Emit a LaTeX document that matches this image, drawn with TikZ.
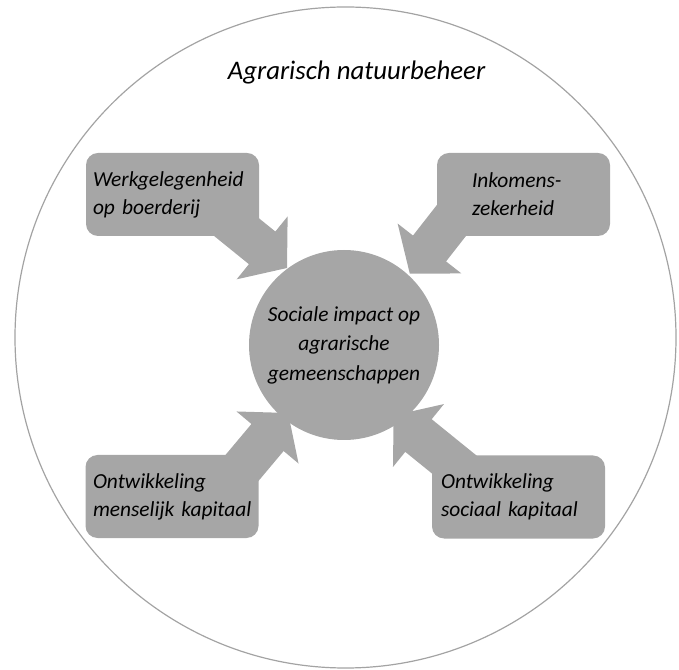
\documentclass[tikz,border=0pt]{standalone}
\usepackage{fontspec}
\setmainfont{Carlito}
\usetikzlibrary{calc}

\hyphenpenalty=10000
\exhyphenpenalty=10000

\definecolor{blockgrey}{HTML}{A6A6A6}
\definecolor{ringgrey}{HTML}{A3A3A3}

\newcommand{\blockarrow}[2]{%
    \coordinate (#1-w) at ($(#2)!32pt!(#1)$);
    \fill [blockgrey]
        ($(#1)!21pt!90:(#2)$) -- ($(#1-w)!21pt!90:(#2)$) --
        ($(#1-w)!40.5pt!90:(#2)$) -- (#2) --
        ($(#1-w)!40.5pt!-90:(#2)$) -- ($(#1-w)!21pt!-90:(#2)$) --
        ($(#1)!21pt!-90:(#2)$) -- cycle;
}

\begin{document}
\begin{tikzpicture}
    [x=1pt, y=1pt,
     every node/.style={font=\fontsize{21.4}{28}\selectfont\itshape, inner sep=0pt},
     callout/.style={fill=blockgrey, rounded corners=12pt, align=left,
                     minimum width=173pt, minimum height=83pt},
     hub/.style={circle, fill=blockgrey, align=center, minimum size=190pt},
     ring/.style={draw=ringgrey, line width=1.2pt},
    ]
    \useasboundingbox (0,0) rectangle (679,669);
    \draw [ring] (345.5,331.5) circle [radius=330.5];

    \node (title) [anchor=base, font=\fontsize{26.8}{32}\selectfont\itshape] at (356.5,589) {Agrarisch natuurbeheer};

    \coordinate (tl-tail) at (186,482.8);
    \coordinate (tl-tip) at (287,401);
    \coordinate (tr-tail) at (489.9,497.7);
    \coordinate (tr-tip) at (409.8,395.3);
    \coordinate (bl-tail) at (204.5,156.4);
    \coordinate (bl-tip) at (288.1,256);
    \coordinate (br-tail) at (494.6,171.8);
    \coordinate (br-tip) at (393.6,253.6);

    \blockarrow{tl-tail}{tl-tip}
    \blockarrow{tr-tail}{tr-tip}
    \blockarrow{bl-tail}{bl-tip}
    \blockarrow{br-tail}{br-tip}

    \node (tl) [callout, text width=159pt] at (172.5,474.5) {Werkgelegenheid\\op~boerderij};
    \node (tr) [callout, text width=103pt] at (523.5,474.5) {Inkomens-\\zekerheid};
    \node (bl) [callout, text width=158pt] at (172,172.5) {Ontwikkeling\\menselijk~kapitaal};
    \node (br) [callout, text width=155pt] at (518.5,172) {Ontwikkeling\\sociaal~kapitaal};

    \node (impact) [hub, font=\fontsize{21.4}{29.5}\selectfont\itshape] at (344,324)
        {Sociale impact op\\agrarische\\gemeenschappen};

\end{tikzpicture}
\end{document}
